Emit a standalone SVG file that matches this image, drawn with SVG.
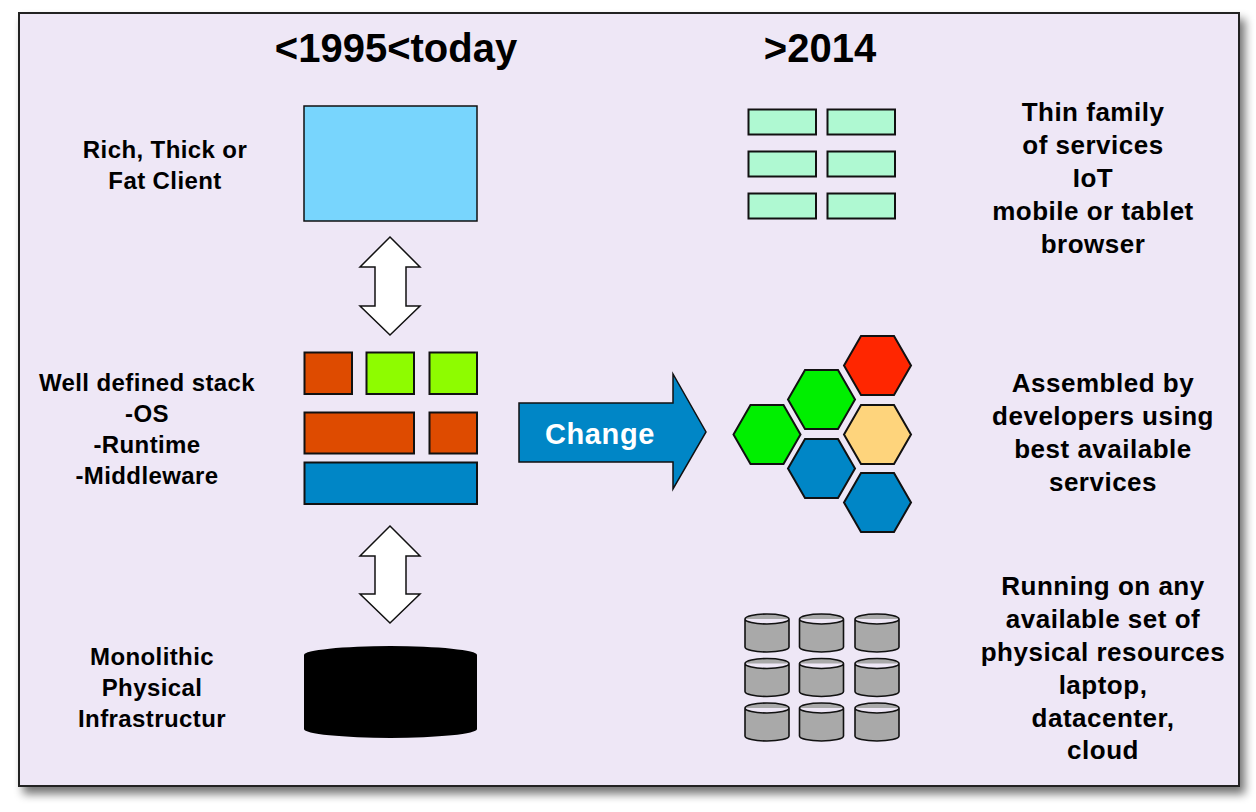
<svg xmlns="http://www.w3.org/2000/svg" width="1256" height="812" viewBox="0 0 1256 812">
<defs>
<filter id="shadow" x="-5%" y="-5%" width="115%" height="115%">
<feGaussianBlur in="SourceAlpha" stdDeviation="5"/>
<feOffset dx="5" dy="7" result="b"/>
<feComponentTransfer><feFuncA type="linear" slope="0.55"/></feComponentTransfer>
<feMerge><feMergeNode/><feMergeNode in="SourceGraphic"/></feMerge>
</filter>
</defs>
<style>
.lbl{font-family:"Liberation Sans",Arial,Helvetica,sans-serif;font-weight:bold;fill:#000;text-anchor:middle}
.l{font-size:24px;letter-spacing:0.4px}
.r{font-size:26px;letter-spacing:0.5px}
.t{font-size:40px}
.blk{stroke:#111;stroke-width:2}
.thin{stroke:#111;stroke-width:1.5}
.org{fill:#de4b00}
.grn{fill:#8efc00}
.blu{fill:#0086c6}
.mint{fill:#aff9d2}
.cyl{fill:#a9a9a9;stroke:#111;stroke-width:1.6}
.hex{stroke:#111;stroke-width:2}
</style>
<rect x="19" y="13" width="1220" height="773" fill="#eee7f6" stroke="#222" stroke-width="2" filter="url(#shadow)"/>

<g id="titles">
<text class="lbl t" x="396" y="62">&lt;1995&lt;today</text>
<text class="lbl t" x="820" y="62">&gt;2014</text>
</g>

<g id="label-client">
<text class="lbl l" x="165" y="158">Rich, Thick or</text>
<text class="lbl l" x="165" y="189">Fat Client</text>
</g>
<g id="label-stack">
<text class="lbl l" x="147" y="391">Well defined stack</text>
<text class="lbl l" x="147" y="422">-OS</text>
<text class="lbl l" x="147" y="453">-Runtime</text>
<text class="lbl l" x="147" y="484">-Middleware</text>
</g>
<g id="label-infra">
<text class="lbl l" x="152" y="665">Monolithic</text>
<text class="lbl l" x="152" y="696">Physical</text>
<text class="lbl l" x="152" y="727">Infrastructur</text>
</g>

<g id="label-thin">
<text class="lbl r" x="1093" y="121">Thin family</text>
<text class="lbl r" x="1093" y="154">of services</text>
<text class="lbl r" x="1093" y="187">IoT</text>
<text class="lbl r" x="1093" y="220">mobile or tablet</text>
<text class="lbl r" x="1093" y="253">browser</text>
</g>
<g id="label-assembled">
<text class="lbl r" x="1103" y="392">Assembled by</text>
<text class="lbl r" x="1103" y="425">developers using</text>
<text class="lbl r" x="1103" y="458">best available</text>
<text class="lbl r" x="1103" y="491">services</text>
</g>
<g id="label-running">
<text class="lbl r" x="1103" y="595">Running on any</text>
<text class="lbl r" x="1103" y="628">available set of</text>
<text class="lbl r" x="1103" y="661">physical resources</text>
<text class="lbl r" x="1103" y="694">laptop,</text>
<text class="lbl r" x="1103" y="727">datacenter,</text>
<text class="lbl r" x="1103" y="759">cloud</text>
</g>

<g id="fat-client">
<rect x="304" y="106" width="173" height="115" fill="#78d5fd" class="thin"/>
</g>

<g id="stack">
<rect x="304.5" y="352.5" width="47.5" height="41.5" class="org blk"/>
<rect x="366.5" y="352.5" width="47.5" height="41.5" class="grn blk"/>
<rect x="429.5" y="352.5" width="47.5" height="41.5" class="grn blk"/>
<rect x="304.5" y="412.5" width="109.5" height="41" class="org blk"/>
<rect x="429.5" y="412.5" width="47.5" height="41" class="org blk"/>
<rect x="304.5" y="462.5" width="172.5" height="41.5" class="blu blk"/>
</g>

<g id="monolith">
<path d="M304,655 A86.5,9 0 0 1 477,655 V729 A86.5,9 0 0 1 304,729 Z" fill="#000"/>
</g>

<g id="thin-services">
<rect x="748.5" y="109.5" width="67.5" height="25" class="mint blk"/>
<rect x="827.5" y="109.5" width="67.5" height="25" class="mint blk"/>
<rect x="748.5" y="151.5" width="67.5" height="25" class="mint blk"/>
<rect x="827.5" y="151.5" width="67.5" height="25" class="mint blk"/>
<rect x="748.5" y="193.5" width="67.5" height="25" class="mint blk"/>
<rect x="827.5" y="193.5" width="67.5" height="25" class="mint blk"/>
</g>

<g id="hexagons">
<polygon class="hex" fill="#ff2600" transform="translate(877.5,365.5)" points="-33.5,0 -16.5,-29.5 16.5,-29.5 33.5,0 16.5,29.5 -16.5,29.5"/>
<polygon class="hex" fill="#00ef00" transform="translate(821.5,399.5)" points="-33.5,0 -16.5,-29.5 16.5,-29.5 33.5,0 16.5,29.5 -16.5,29.5"/>
<polygon class="hex" fill="#00ef00" transform="translate(767,434.5)" points="-33.5,0 -16.5,-29.5 16.5,-29.5 33.5,0 16.5,29.5 -16.5,29.5"/>
<polygon class="hex" fill="#fed47c" transform="translate(877.5,434.5)" points="-33.5,0 -16.5,-29.5 16.5,-29.5 33.5,0 16.5,29.5 -16.5,29.5"/>
<polygon class="hex" fill="#0086c6" transform="translate(821.5,468.5)" points="-33.5,0 -16.5,-29.5 16.5,-29.5 33.5,0 16.5,29.5 -16.5,29.5"/>
<polygon class="hex" fill="#0086c6" transform="translate(877.5,502.5)" points="-33.5,0 -16.5,-29.5 16.5,-29.5 33.5,0 16.5,29.5 -16.5,29.5"/>
</g>

<g id="resources">
<g transform="translate(745,614)"><path class="cyl" d="M0,5 A22,5 0 0 1 44,5 V33 A22,5 0 0 1 0,33 Z M0,5 A22,5 0 0 0 44,5"/></g>
<g transform="translate(799.5,614)"><path class="cyl" d="M0,5 A22,5 0 0 1 44,5 V33 A22,5 0 0 1 0,33 Z M0,5 A22,5 0 0 0 44,5"/></g>
<g transform="translate(855,614)"><path class="cyl" d="M0,5 A22,5 0 0 1 44,5 V33 A22,5 0 0 1 0,33 Z M0,5 A22,5 0 0 0 44,5"/></g>
<g transform="translate(745,658.5)"><path class="cyl" d="M0,5 A22,5 0 0 1 44,5 V33 A22,5 0 0 1 0,33 Z M0,5 A22,5 0 0 0 44,5"/></g>
<g transform="translate(799.5,658.5)"><path class="cyl" d="M0,5 A22,5 0 0 1 44,5 V33 A22,5 0 0 1 0,33 Z M0,5 A22,5 0 0 0 44,5"/></g>
<g transform="translate(855,658.5)"><path class="cyl" d="M0,5 A22,5 0 0 1 44,5 V33 A22,5 0 0 1 0,33 Z M0,5 A22,5 0 0 0 44,5"/></g>
<g transform="translate(745,703)"><path class="cyl" d="M0,5 A22,5 0 0 1 44,5 V33 A22,5 0 0 1 0,33 Z M0,5 A22,5 0 0 0 44,5"/></g>
<g transform="translate(799.5,703)"><path class="cyl" d="M0,5 A22,5 0 0 1 44,5 V33 A22,5 0 0 1 0,33 Z M0,5 A22,5 0 0 0 44,5"/></g>
<g transform="translate(855,703)"><path class="cyl" d="M0,5 A22,5 0 0 1 44,5 V33 A22,5 0 0 1 0,33 Z M0,5 A22,5 0 0 0 44,5"/></g>
</g>

<g id="connectors">
<polygon fill="#fff" class="thin" points="390,237 420,267 406,267 406,306 420,306 390,335 360,306 375,306 375,267 360,267"/>
<polygon fill="#fff" class="thin" points="390,526 420,556 406,556 406,594 420,594 390,623 360,594 375,594 375,556 360,556"/>
<g id="change">
<polygon class="blu thin" points="519,403 673,403 673,374 706,432 673,489 673,462 519,462"/>
<text x="600" y="444" font-family="'Liberation Sans',Arial,sans-serif" font-weight="bold" font-size="29" letter-spacing="0.6" fill="#fff" text-anchor="middle">Change</text>
</g>
</g>
</svg>
